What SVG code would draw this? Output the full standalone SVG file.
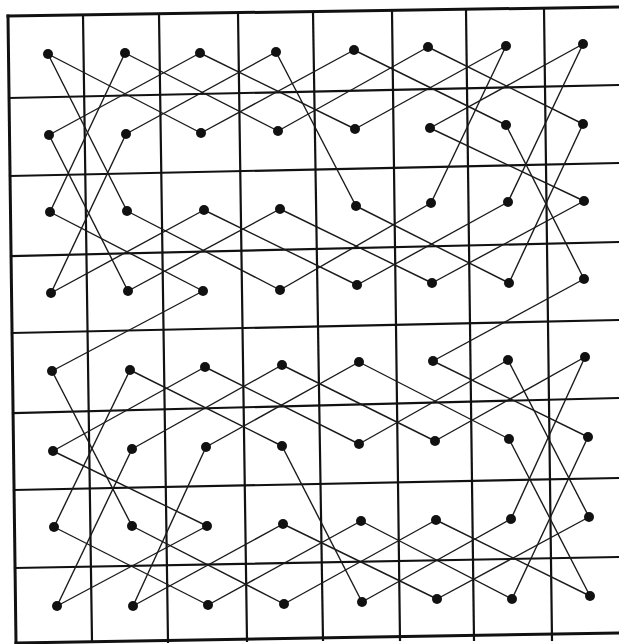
<svg xmlns="http://www.w3.org/2000/svg" width="619" height="644" viewBox="0 0 619 644">
<style>
.grid line{stroke:#111;stroke-width:2.2;stroke-linecap:square}
.border line{stroke:#111;stroke-width:3;stroke-linecap:square}
#connectors line{stroke:#1a1a1a;stroke-width:1.4}
.node circle{fill:#111}
</style>
<rect width="619" height="644" fill="#fff"/>
<g class="border">
<line x1="8" y1="16" x2="619" y2="7"/>
<line x1="8" y1="16" x2="16" y2="643"/>
<line x1="16" y1="643" x2="619" y2="633"/>
</g>
<g class="grid">
<line x1="83" y1="15" x2="92" y2="642"/>
<line x1="159" y1="14" x2="168" y2="642"/>
<line x1="238" y1="13" x2="247" y2="641"/>
<line x1="313" y1="12" x2="323" y2="640"/>
<line x1="392" y1="11" x2="400" y2="640"/>
<line x1="466" y1="10" x2="474" y2="640"/>
<line x1="544" y1="8" x2="552" y2="640"/>
<line x1="9" y1="98" x2="619" y2="85"/>
<line x1="10" y1="176" x2="619" y2="163"/>
<line x1="11" y1="256" x2="619" y2="242"/>
<line x1="12" y1="333" x2="619" y2="320"/>
<line x1="13" y1="413" x2="619" y2="398"/>
<line x1="14" y1="490" x2="619" y2="478"/>
<line x1="15" y1="568" x2="619" y2="557"/>
</g>
<g id="connectors">
<line x1="48" y1="54" x2="201" y2="133"/>
<line x1="48" y1="54" x2="127" y2="211"/>
<line x1="125" y1="53" x2="278" y2="131"/>
<line x1="125" y1="53" x2="50" y2="212"/>
<line x1="200" y1="53" x2="49" y2="135"/>
<line x1="200" y1="53" x2="355" y2="129"/>
<line x1="276" y1="52" x2="126" y2="134"/>
<line x1="276" y1="52" x2="356" y2="206"/>
<line x1="354" y1="50" x2="201" y2="133"/>
<line x1="354" y1="50" x2="506" y2="125"/>
<line x1="428" y1="47" x2="278" y2="131"/>
<line x1="428" y1="47" x2="583" y2="124"/>
<line x1="506" y1="46" x2="355" y2="129"/>
<line x1="506" y1="46" x2="431" y2="203"/>
<line x1="583" y1="44" x2="430" y2="128"/>
<line x1="583" y1="44" x2="508" y2="202"/>
<line x1="49" y1="135" x2="128" y2="291"/>
<line x1="126" y1="134" x2="51" y2="293"/>
<line x1="430" y1="128" x2="584" y2="201"/>
<line x1="506" y1="125" x2="584" y2="279"/>
<line x1="583" y1="124" x2="509" y2="283"/>
<line x1="50" y1="212" x2="203" y2="291"/>
<line x1="127" y1="211" x2="280" y2="290"/>
<line x1="204" y1="210" x2="51" y2="293"/>
<line x1="204" y1="210" x2="357" y2="285"/>
<line x1="280" y1="209" x2="128" y2="291"/>
<line x1="280" y1="209" x2="432" y2="283"/>
<line x1="356" y1="206" x2="509" y2="283"/>
<line x1="431" y1="203" x2="280" y2="290"/>
<line x1="508" y1="202" x2="357" y2="285"/>
<line x1="584" y1="201" x2="432" y2="283"/>
<line x1="203" y1="291" x2="52" y2="371"/>
<line x1="584" y1="279" x2="433" y2="361"/>
<line x1="52" y1="371" x2="132" y2="526"/>
<line x1="130" y1="370" x2="282" y2="446"/>
<line x1="130" y1="370" x2="54" y2="527"/>
<line x1="205" y1="367" x2="53" y2="451"/>
<line x1="205" y1="367" x2="359" y2="444"/>
<line x1="282" y1="365" x2="132" y2="449"/>
<line x1="282" y1="365" x2="435" y2="441"/>
<line x1="359" y1="362" x2="206" y2="447"/>
<line x1="359" y1="362" x2="509" y2="439"/>
<line x1="433" y1="361" x2="588" y2="437"/>
<line x1="508" y1="360" x2="359" y2="444"/>
<line x1="508" y1="360" x2="589" y2="517"/>
<line x1="585" y1="357" x2="435" y2="441"/>
<line x1="585" y1="357" x2="511" y2="519"/>
<line x1="53" y1="451" x2="207" y2="526"/>
<line x1="132" y1="449" x2="57" y2="606"/>
<line x1="206" y1="447" x2="133" y2="606"/>
<line x1="282" y1="446" x2="362" y2="602"/>
<line x1="509" y1="439" x2="590" y2="596"/>
<line x1="588" y1="437" x2="512" y2="599"/>
<line x1="54" y1="527" x2="208" y2="605"/>
<line x1="132" y1="526" x2="284" y2="604"/>
<line x1="207" y1="526" x2="57" y2="606"/>
<line x1="283" y1="524" x2="133" y2="606"/>
<line x1="283" y1="524" x2="437" y2="599"/>
<line x1="361" y1="521" x2="208" y2="605"/>
<line x1="361" y1="521" x2="512" y2="599"/>
<line x1="436" y1="520" x2="284" y2="604"/>
<line x1="436" y1="520" x2="590" y2="596"/>
<line x1="511" y1="519" x2="362" y2="602"/>
<line x1="589" y1="517" x2="437" y2="599"/>
</g>
<g id="n11" class="node"><circle cx="48" cy="54" r="5"/></g>
<g id="n12" class="node"><circle cx="125" cy="53" r="5"/></g>
<g id="n13" class="node"><circle cx="200" cy="53" r="5"/></g>
<g id="n14" class="node"><circle cx="276" cy="52" r="5"/></g>
<g id="n15" class="node"><circle cx="354" cy="50" r="5"/></g>
<g id="n16" class="node"><circle cx="428" cy="47" r="5"/></g>
<g id="n17" class="node"><circle cx="506" cy="46" r="5"/></g>
<g id="n18" class="node"><circle cx="583" cy="44" r="5"/></g>
<g id="n21" class="node"><circle cx="49" cy="135" r="5"/></g>
<g id="n22" class="node"><circle cx="126" cy="134" r="5"/></g>
<g id="n23" class="node"><circle cx="201" cy="133" r="5"/></g>
<g id="n24" class="node"><circle cx="278" cy="131" r="5"/></g>
<g id="n25" class="node"><circle cx="355" cy="129" r="5"/></g>
<g id="n26" class="node"><circle cx="430" cy="128" r="5"/></g>
<g id="n27" class="node"><circle cx="506" cy="125" r="5"/></g>
<g id="n28" class="node"><circle cx="583" cy="124" r="5"/></g>
<g id="n31" class="node"><circle cx="50" cy="212" r="5"/></g>
<g id="n32" class="node"><circle cx="127" cy="211" r="5"/></g>
<g id="n33" class="node"><circle cx="204" cy="210" r="5"/></g>
<g id="n34" class="node"><circle cx="280" cy="209" r="5"/></g>
<g id="n35" class="node"><circle cx="356" cy="206" r="5"/></g>
<g id="n36" class="node"><circle cx="431" cy="203" r="5"/></g>
<g id="n37" class="node"><circle cx="508" cy="202" r="5"/></g>
<g id="n38" class="node"><circle cx="584" cy="201" r="5"/></g>
<g id="n41" class="node"><circle cx="51" cy="293" r="5"/></g>
<g id="n42" class="node"><circle cx="128" cy="291" r="5"/></g>
<g id="n43" class="node"><circle cx="203" cy="291" r="5"/></g>
<g id="n44" class="node"><circle cx="280" cy="290" r="5"/></g>
<g id="n45" class="node"><circle cx="357" cy="285" r="5"/></g>
<g id="n46" class="node"><circle cx="432" cy="283" r="5"/></g>
<g id="n47" class="node"><circle cx="509" cy="283" r="5"/></g>
<g id="n48" class="node"><circle cx="584" cy="279" r="5"/></g>
<g id="n51" class="node"><circle cx="52" cy="371" r="5"/></g>
<g id="n52" class="node"><circle cx="130" cy="370" r="5"/></g>
<g id="n53" class="node"><circle cx="205" cy="367" r="5"/></g>
<g id="n54" class="node"><circle cx="282" cy="365" r="5"/></g>
<g id="n55" class="node"><circle cx="359" cy="362" r="5"/></g>
<g id="n56" class="node"><circle cx="433" cy="361" r="5"/></g>
<g id="n57" class="node"><circle cx="508" cy="360" r="5"/></g>
<g id="n58" class="node"><circle cx="585" cy="357" r="5"/></g>
<g id="n61" class="node"><circle cx="53" cy="451" r="5"/></g>
<g id="n62" class="node"><circle cx="132" cy="449" r="5"/></g>
<g id="n63" class="node"><circle cx="206" cy="447" r="5"/></g>
<g id="n64" class="node"><circle cx="282" cy="446" r="5"/></g>
<g id="n65" class="node"><circle cx="359" cy="444" r="5"/></g>
<g id="n66" class="node"><circle cx="435" cy="441" r="5"/></g>
<g id="n67" class="node"><circle cx="509" cy="439" r="5"/></g>
<g id="n68" class="node"><circle cx="588" cy="437" r="5"/></g>
<g id="n71" class="node"><circle cx="54" cy="527" r="5"/></g>
<g id="n72" class="node"><circle cx="132" cy="526" r="5"/></g>
<g id="n73" class="node"><circle cx="207" cy="526" r="5"/></g>
<g id="n74" class="node"><circle cx="283" cy="524" r="5"/></g>
<g id="n75" class="node"><circle cx="361" cy="521" r="5"/></g>
<g id="n76" class="node"><circle cx="436" cy="520" r="5"/></g>
<g id="n77" class="node"><circle cx="511" cy="519" r="5"/></g>
<g id="n78" class="node"><circle cx="589" cy="517" r="5"/></g>
<g id="n81" class="node"><circle cx="57" cy="606" r="5"/></g>
<g id="n82" class="node"><circle cx="133" cy="606" r="5"/></g>
<g id="n83" class="node"><circle cx="208" cy="605" r="5"/></g>
<g id="n84" class="node"><circle cx="284" cy="604" r="5"/></g>
<g id="n85" class="node"><circle cx="362" cy="602" r="5"/></g>
<g id="n86" class="node"><circle cx="437" cy="599" r="5"/></g>
<g id="n87" class="node"><circle cx="512" cy="599" r="5"/></g>
<g id="n88" class="node"><circle cx="590" cy="596" r="5"/></g>
</svg>
